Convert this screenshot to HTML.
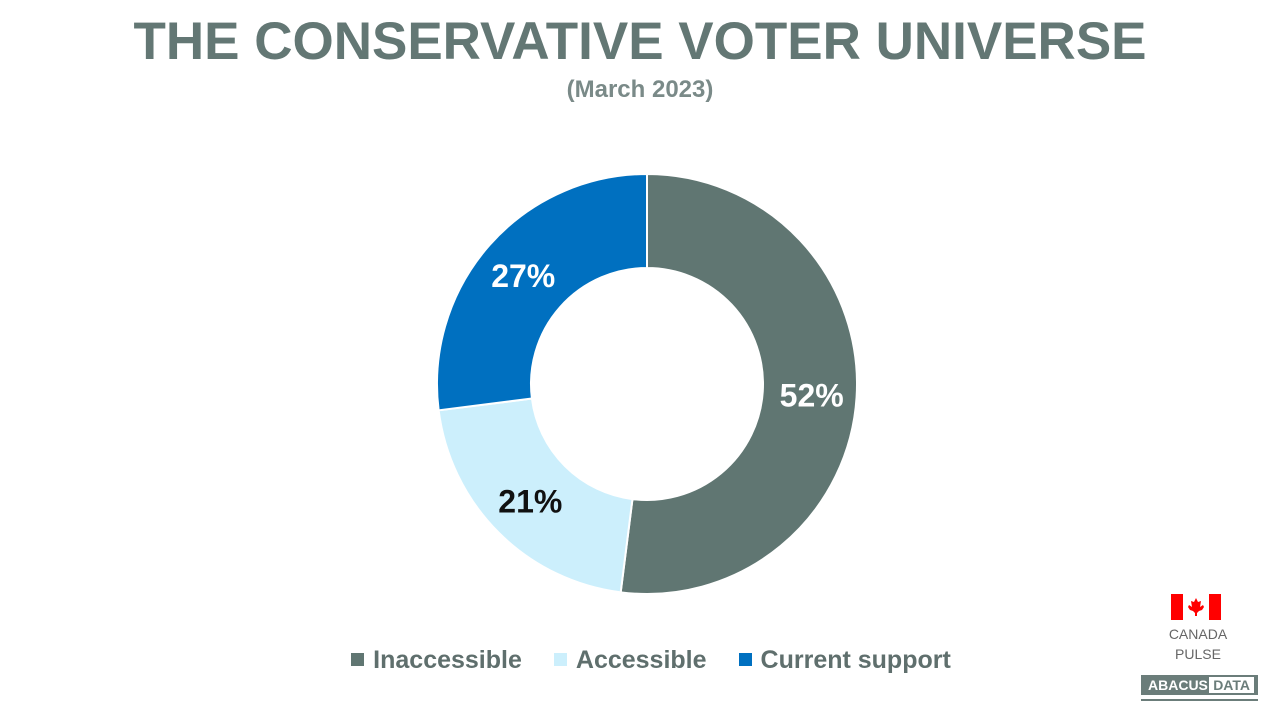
<!DOCTYPE html>
<html><head><meta charset="utf-8"><style>
body{margin:0;width:1280px;height:720px;background:#fff;font-family:"Liberation Sans",sans-serif;overflow:hidden;position:relative}
#title{position:absolute;top:11px;left:0;width:1280px;text-align:center;font-size:53px;font-weight:bold;color:#637774;letter-spacing:0px}
#sub{position:absolute;top:76px;left:0;width:1280px;text-align:center;font-size:24px;font-weight:bold;color:#7a8a88}
#legend{position:absolute;top:646px;left:0;width:1302px;text-align:center;font-size:25px;font-weight:bold;color:#5f6f6d}
.li{display:inline-block;margin:0 16px}
.sw{display:inline-block;width:13px;height:13px;margin-right:9px;vertical-align:2px}
</style></head><body>
<div id="title">THE CONSERVATIVE VOTER UNIVERSE</div>
<div id="sub">(March 2023)</div>
<svg id="chart" width="1280" height="720" style="position:absolute;left:0;top:0"></svg>
<div id="legend">
<span class="li"><span class="sw" style="background:#607672"></span>Inaccessible</span><span class="li"><span class="sw" style="background:#CCEFFC"></span>Accessible</span><span class="li"><span class="sw" style="background:#0070C0"></span>Current support</span>
</div>
<svg style="position:absolute;left:1171px;top:594px" width="50" height="26">
<rect width="50" height="26" fill="#f00"/><rect x="12" width="26" height="26" fill="#fff"/>
<polygon points="25,4 27,8 30,7 29,13 32,11 33,13 31,16 28,17 26,19 26,22 24,22 24,19 22,17 19,16 17,13 18,11 21,13 20,7 23,8" fill="#f00"/>
</svg>
<div style="position:absolute;left:1140px;top:624px;width:116px;text-align:center;font-size:14px;color:#666;line-height:20px">CANADA<br>PULSE</div>
<div style="position:absolute;left:1141px;top:675px;width:117px;height:20px;background:#6b7d7a;font-size:14px;font-weight:bold;line-height:20px"><span style="color:#fff;margin-left:7px">ABACUS</span><span style="position:absolute;right:4px;top:2px;height:16px;line-height:16px;background:#fff;color:#6b7d7a;padding:0 4px">DATA</span></div>
<div style="position:absolute;left:1141px;top:699px;width:117px;height:2px;background:#6b7d7a"></div>
<script>
const categories=["Inaccessible","Accessible","Current support"];
const values=[52,21,27];
const labels=["52%","21%","27%"];
const colors=["#607672","#CCEFFC","#0070C0"];
const labelColors=["#fff","#111","#fff"];
const svg=document.getElementById('chart');
const cx=647,cy=384,R=210,r=116,NS="http://www.w3.org/2000/svg";
const total=values.reduce((a,b)=>a+b,0);
function pt(a,rad){return [cx+rad*Math.sin(a),cy-rad*Math.cos(a)];}
let a0=0;
values.forEach((v,i)=>{
 const a1=a0+v/total*2*Math.PI;const lg=(a1-a0)>Math.PI?1:0;
 const [x0,y0]=pt(a0,R),[x1,y1]=pt(a1,R),[x2,y2]=pt(a1,r),[x3,y3]=pt(a0,r);
 const p=document.createElementNS(NS,'path');
 p.setAttribute('d',`M${x0},${y0}A${R},${R} 0 ${lg} 1 ${x1},${y1}L${x2},${y2}A${r},${r} 0 ${lg} 0 ${x3},${y3}Z`);
 p.setAttribute('fill',colors[i]);p.setAttribute('stroke','#fff');p.setAttribute('stroke-width','2');
 
 
 svg.appendChild(p);
 const [lx,ly]=pt((a0+a1)/2,165);
 const t=document.createElementNS(NS,'text');
 t.setAttribute('x',lx);t.setAttribute('y',ly+12);t.setAttribute('text-anchor','middle');
 t.setAttribute('font-size','32');t.setAttribute('font-weight','bold');t.setAttribute('fill',labelColors[i]);
 t.setAttribute('font-family','Liberation Sans, sans-serif');
 t.textContent=labels[i];
 
 
 svg.appendChild(t);
 a0=a1;
});
</script>
</body></html>
